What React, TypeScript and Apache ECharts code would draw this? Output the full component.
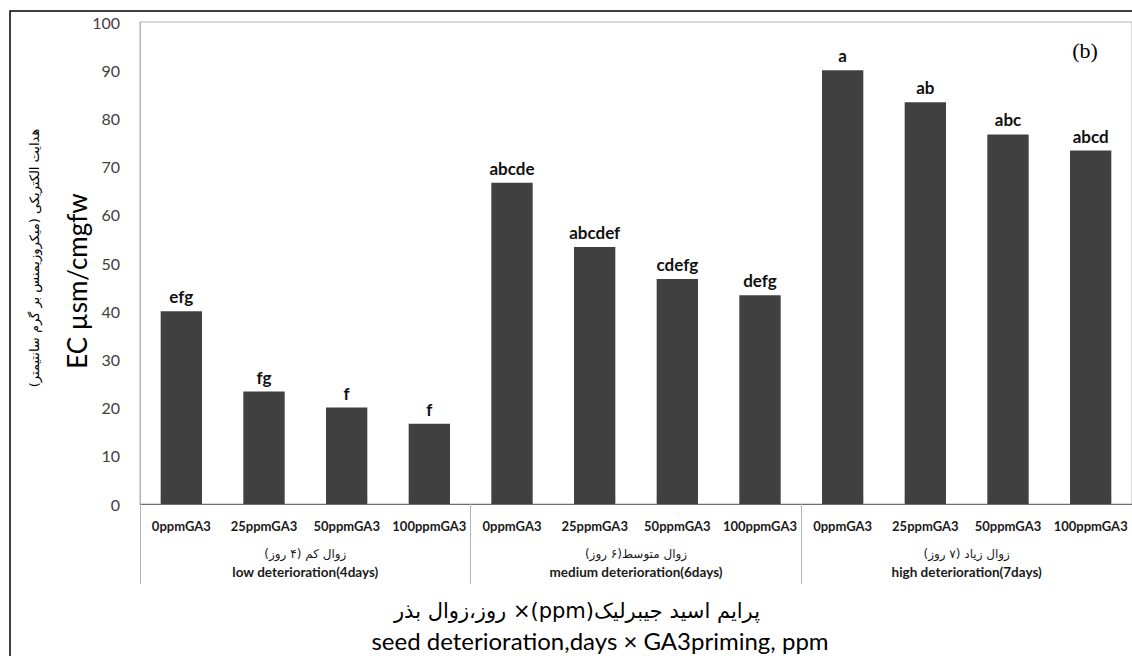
import React, { useEffect, useRef } from "react";
import * as echarts from "echarts";

const categories = [
  "0ppmGA3", "25ppmGA3", "50ppmGA3", "100ppmGA3",
  "0ppmGA3", "25ppmGA3", "50ppmGA3", "100ppmGA3",
  "0ppmGA3", "25ppmGA3", "50ppmGA3", "100ppmGA3",
];
const groupsFa = ["زوال کم (۴ روز)", "زوال متوسط(۶ روز)", "زوال زیاد (۷ روز)"];
const groupsEn = ["low deterioration(4days)", "medium deterioration(6days)", "high deterioration(7days)"];
const ecValues = [40, 23.33, 20, 16.67, 66.67, 53.33, 46.67, 43.33, 90, 83.33, 76.67, 73.33];
const letters = ["efg", "fg", "f", "f", "abcde", "abcdef", "cdefg", "defg", "a", "ab", "abc", "abcd"];
const yTicks = { min: 0, max: 100, interval: 10 };

const RLM = "\u200F";
const yTitleFa = "هدایت الکتریکی (میکروزیمنس بر گرم سانتیمتر)";
const yTitleEn = "EC µsm/cmgfw";
const xTitleFa = "روز،زوال بذر ×(ppm)پرایم اسید جیبرلیک";
const xTitleEn = "seed deterioration,days × GA3priming, ppm";
const panelTag = "(b)";

export default function App() {
  const ref = useRef<HTMLDivElement>(null);
  useEffect(() => {
    const chart = echarts.init(ref.current!, null, { renderer: "svg" });
    const sans = "Lato, 'Open Sans', sans-serif";
    const fa = "'DejaVu Sans', sans-serif";
    chart.setOption({
      animation: false,
      grid: {
        left: 140, top: 22, width: 999, height: 482,
        show: true, borderColor: "#b3b3b3", borderWidth: 1,
      },
      xAxis: [
        {
          type: "category",
          data: categories,
          axisLine: { lineStyle: { color: "#6e6e6e", width: 1 } },
          axisTick: { show: false },
          axisLabel: {
            interval: 0, margin: 15, fontFamily: sans, fontWeight: "bold",
            fontSize: 13, color: "#1a1a1a",
          },
        },
        {
          type: "category",
          position: "bottom",
          data: groupsEn,
          axisLine: { show: false },
          axisTick: { show: true, length: 80, interval: 0, lineStyle: { color: "#b3b3b3" } },
          axisLabel: {
            interval: 0, margin: 41,
            formatter: (v: string, i: number) => `{fa|${RLM}${groupsFa[i]}${RLM}}\n{en|${v}}`,
            rich: {
              fa: { fontFamily: fa, fontSize: 12, lineHeight: 18, color: "#1a1a1a" },
              en: { fontFamily: sans, fontWeight: "bold", fontSize: 13.5, lineHeight: 18, color: "#1a1a1a" },
            },
          },
        },
      ],
      yAxis: {
        type: "value",
        min: yTicks.min, max: yTicks.max, interval: yTicks.interval,
        axisLine: { show: true, lineStyle: { color: "#b3b3b3" } },
        axisTick: { show: false },
        splitLine: { show: false },
        axisLabel: { margin: 20, fontFamily: sans, fontSize: 16, color: "#404040" },
      },
      series: [
        {
          type: "bar",
          xAxisIndex: 0,
          data: ecValues,
          barWidth: "50%",
          itemStyle: { color: "#404040" },
          label: {
            show: true, position: "top", distance: 6,
            formatter: (p: any) => letters[p.dataIndex],
            fontFamily: sans, fontWeight: "bold", fontSize: 17, color: "#111",
          },
        },
      ],
      graphic: [
        {
          type: "rect", silent: true,
          shape: { x: 10, y: 11, width: 1300, height: 1000 },
          style: { fill: "none", stroke: "#000", lineWidth: 1.5 },
        },
        {
          type: "text", x: 77, y: 281, rotation: Math.PI / 2,
          style: { text: yTitleEn, font: `26px ${sans}`, fill: "#000", align: "center", verticalAlign: "middle" },
        },
        {
          type: "text", x: 34, y: 258, rotation: Math.PI / 2,
          style: { text: RLM + yTitleFa + RLM, font: `13px ${fa}`, fill: "#000", align: "center", verticalAlign: "middle" },
        },
        {
          type: "text", x: 577, y: 611,
          style: { text: xTitleFa, font: `21px ${fa}`, fill: "#000", align: "center", verticalAlign: "middle" },
        },
        {
          type: "text", x: 600, y: 640,
          style: { text: xTitleEn, font: `24px ${sans}`, fill: "#000", align: "center", verticalAlign: "middle" },
        },
        {
          type: "text", x: 1085, y: 50,
          style: { text: panelTag, font: `22px 'Liberation Serif', serif`, fill: "#000", align: "center", verticalAlign: "middle" },
        },
      ],
    });
    return () => chart.dispose();
  }, []);
  return (
    <div
      ref={ref}
      style={{ position: "absolute", left: 0, top: 0, width: 1132, height: 656, background: "#fff" }}
    />
  );
}
